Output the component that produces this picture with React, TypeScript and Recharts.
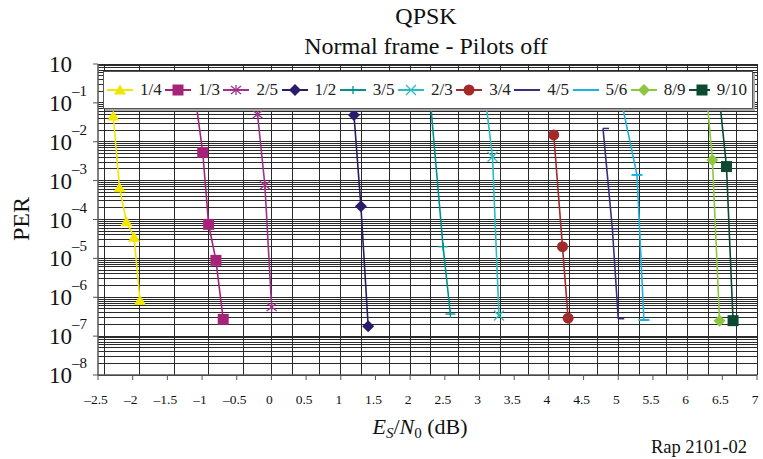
import { LineChart, Line, XAxis, YAxis, CartesianGrid } from 'recharts'

// Es/N0 (dB) and PER, one pair of arrays per code rate
const es14 = [-2.28, -2.19, -2.09, -1.98, -1.895]
const per14 = [4.6e-2, 6.6e-4, 8.7e-5, 3.5e-5, 8.3e-7]
const es13 = [-1.1, -0.99, -0.905, -0.8, -0.695]
const per13 = [1.5e-1, 5.3e-3, 7.5e-5, 8.9e-6, 2.7e-7]
const es25 = [-0.2, -0.094, 0.003]
const per25 = [5.1e-2, 7.6e-4, 5.6e-7]
const es12 = [1.19, 1.29, 1.395]
const per12 = [4.9e-2, 2.2e-4, 1.8e-7]
const es35 = [2.285, 2.475, 2.58]
const per35 = [1.5e-1, 2e-5, 3.7e-7]
const es23 = [3.08, 3.187, 3.28]
const per23 = [1.5e-1, 4.1e-3, 3.4e-7]
const es34 = [4.07, 4.196, 4.277]
const per34 = [1.5e-2, 2e-5, 2.9e-7]
const es45 = [4.78, 4.915, 5.0]
const per45 = [2.2e-2, 5.8e-5, 2.8e-7]
const es56 = [5.03, 5.27, 5.37]
const per56 = [1.5e-1, 1.4e-3, 2.6e-7]
const es89 = [6.275, 6.357, 6.46]
const per89 = [1.5e-1, 3.4e-3, 2.5e-7]
const es910 = [6.455, 6.56, 6.655]
const per910 = [1.5e-1, 2.3e-3, 2.5e-7]

const xTicks = [-2.5, -2, -1.5, -1, -0.5, 0, 0.5, 1, 1.5, 2, 2.5, 3, 3.5, 4, 4.5, 5, 5.5, 6, 6.5, 7]
const yTicks = [1, 1e-1, 1e-2, 1e-3, 1e-4, 1e-5, 1e-6, 1e-7, 1e-8]
const yTickLabels = ['', '–1', '–2', '–3', '–4', '–5', '–6', '–7', '–8']

const FONT = '"Liberation Serif", "Times New Roman", serif'

type Shape = 'triangle' | 'square' | 'asterisk' | 'diamond' | 'plus' | 'cross' | 'circle' | 'tick' | 'dash'

const zip = (xs: number[], ys: number[]) => xs.map((es, i) => ({ es, per: ys[i] }))

const series: { name: string; color: string; shape: Shape; data: { es: number; per: number }[] }[] = [
  { name: '1/4', color: '#f0e600', shape: 'triangle', data: zip(es14, per14) },
  { name: '1/3', color: '#a6237a', shape: 'square', data: zip(es13, per13) },
  { name: '2/5', color: '#a0308c', shape: 'asterisk', data: zip(es25, per25) },
  { name: '1/2', color: '#2b1b6b', shape: 'diamond', data: zip(es12, per12) },
  { name: '3/5', color: '#00918e', shape: 'plus', data: zip(es35, per35) },
  { name: '2/3', color: '#2cbcc0', shape: 'cross', data: zip(es23, per23) },
  { name: '3/4', color: '#a32a2a', shape: 'circle', data: zip(es34, per34) },
  { name: '4/5', color: '#3b2d84', shape: 'tick', data: zip(es45, per45) },
  { name: '5/6', color: '#1fb1e6', shape: 'dash', data: zip(es56, per56) },
  { name: '8/9', color: '#8dc63f', shape: 'diamond', data: zip(es89, per89) },
  { name: '9/10', color: '#0d4a32', shape: 'square', data: zip(es910, per910) },
]

// grid: every 0.1 dB, and 1..9 in each decade
const gridX: number[] = []
for (let i = 0; i <= 95; i++) gridX.push(Math.round((-2.5 + i * 0.1) * 10) / 10)
const gridY: number[] = []
for (let d = -8; d < 0; d++) for (let m = 1; m <= 9; m++) gridY.push(m * Math.pow(10, d))
gridY.push(1)

const Marker = ({ cx, cy, color, shape }: { cx: number; cy: number; color: string; shape: Shape }) => {
  if (cx == null || cy == null) return null
  switch (shape) {
    case 'triangle':
      return <polygon points={`${cx},${cy - 5.5} ${cx - 6},${cy + 4.5} ${cx + 6},${cy + 4.5}`} fill={color} />
    case 'square':
      return <rect x={cx - 5.5} y={cy - 5.5} width={11} height={11} fill={color} />
    case 'diamond':
      return <polygon points={`${cx},${cy - 6} ${cx + 6},${cy} ${cx},${cy + 6} ${cx - 6},${cy}`} fill={color} />
    case 'circle':
      return <circle cx={cx} cy={cy} r={5.5} fill={color} />
    case 'asterisk':
      return (
        <g stroke={color} strokeWidth={1.3}>
          <line x1={cx} y1={cy - 5} x2={cx} y2={cy + 5} />
          <line x1={cx - 5} y1={cy - 4} x2={cx + 5} y2={cy + 4} />
          <line x1={cx - 5} y1={cy + 4} x2={cx + 5} y2={cy - 4} />
        </g>
      )
    case 'plus':
      return (
        <g stroke={color} strokeWidth={1.3}>
          <line x1={cx - 5} y1={cy} x2={cx + 5} y2={cy} />
          <line x1={cx} y1={cy - 4} x2={cx} y2={cy + 4} />
        </g>
      )
    case 'cross':
      return (
        <g stroke={color} strokeWidth={1.3}>
          <line x1={cx - 5} y1={cy - 5} x2={cx + 5} y2={cy + 5} />
          <line x1={cx - 5} y1={cy + 5} x2={cx + 5} y2={cy - 5} />
        </g>
      )
    case 'tick':
      return <line x1={cx} y1={cy} x2={cx + 6} y2={cy} stroke={color} strokeWidth={1.5} />
    case 'dash':
      return <line x1={cx - 5.5} y1={cy} x2={cx + 5.5} y2={cy} stroke={color} strokeWidth={2} />
  }
  return null
}

const XTick = ({ x, y, payload }: any) => {
  const v = payload.value as number
  const label = v < 0 ? '–' + String(-v) : String(v)
  return (
    <text x={x - 2} y={y} dy={22} textAnchor="middle" fontSize={13.5} fontFamily={FONT} fill="#111">
      {label}
    </text>
  )
}

const YTick = ({ x, y, index }: any) => {
  const sup = yTickLabels[index] ?? ''
  return (
    <g fontFamily={FONT} fill="#111">
      <text x={x - 19} y={y} dy={8} textAnchor="end" fontSize={23}>10</text>
      {sup && (
        <text x={x - 19} y={y} dy={-7} textAnchor="start" fontSize={15}>{sup}</text>
      )}
    </g>
  )
}

const LegendBox = () => (
  <div
    style={{
      position: 'absolute',
      left: 103,
      top: 71,
      width: 650,
      height: 38,
      background: '#fff',
      border: '1.5px solid #555',
      boxShadow: '2px 2px 0 #aaa',
      display: 'flex',
      alignItems: 'center',
      paddingLeft: 3,
      boxSizing: 'border-box',
      fontFamily: FONT,
      fontSize: 17,
      color: '#222',
    }}
  >
    {series.map((s) => (
      <div key={s.name} style={{ width: 58.2, display: 'flex', alignItems: 'center', whiteSpace: 'nowrap', flexShrink: 0 }}>
        <svg width={26} height={16} style={{ marginRight: 7 }}>
          <line x1={0} y1={8} x2={26} y2={8} stroke={s.color} strokeWidth={2} />
          {s.shape !== 'tick' && s.shape !== 'dash' && <Marker cx={13} cy={8} color={s.color} shape={s.shape} />}
        </svg>
        <span>{s.name}</span>
      </div>
    ))}
  </div>
)

export default function App() {
  return (
    <div style={{ position: 'absolute', left: 0, top: 0, width: 763, height: 459, background: '#fff' }}>
      <LineChart width={763} height={459} margin={{ top: 64, right: 6, bottom: 54, left: 0 }}>
        <CartesianGrid
          verticalValues={gridX}
          horizontalValues={gridY}
          stroke="#2a2a2a"
          strokeWidth={1}
          shapeRendering="crispEdges"
        />
        <XAxis
          type="number"
          dataKey="es"
          domain={[-2.5, 7]}
          ticks={xTicks}
          tick={<XTick />}
          tickSize={5}
          height={30}
          axisLine={{ stroke: '#555', strokeWidth: 1.5 }}
          tickLine={{ stroke: '#555' }}
          allowDataOverflow
        />
        <YAxis
          type="number"
          dataKey="per"
          scale="log"
          domain={[1e-8, 1]}
          ticks={yTicks}
          tick={<YTick />}
          tickSize={5}
          width={98}
          axisLine={{ stroke: '#555', strokeWidth: 1.5 }}
          tickLine={{ stroke: '#555' }}
          allowDataOverflow
          interval={0}
        />
        {series.map((s) => (
          <Line
            key={s.name}
            data={s.data}
            dataKey="per"
            name={s.name}
            type="linear"
            stroke={s.color}
            strokeWidth={1.6}
            isAnimationActive={false}
            dot={(p: any) => <Marker key={`${s.name}-${p.index}`} cx={p.cx} cy={p.cy} color={s.color} shape={s.shape} />}
            activeDot={false}
          />
        ))}
      </LineChart>
      <LegendBox />
      <svg
        width={763}
        height={459}
        style={{ position: 'absolute', left: 0, top: 0, pointerEvents: 'none' }}
        fontFamily={FONT}
        fill="#111"
      >
        <text x={426} y={24} textAnchor="middle" fontSize={24}>QPSK</text>
        <text x={426} y={54} textAnchor="middle" fontSize={24}>Normal frame - Pilots off</text>
        <text x={0} y={0} fontSize={24} textAnchor="middle" transform="translate(29,219) rotate(-90)">PER</text>
        <text x={420} y={434} textAnchor="middle" fontSize={22}>
          <tspan fontStyle="italic">E</tspan>
          <tspan fontStyle="italic" fontSize={15} dy={4}>S</tspan>
          <tspan dy={-4}>/</tspan>
          <tspan fontStyle="italic">N</tspan>
          <tspan fontSize={15} dy={4}>0</tspan>
          <tspan dy={-4}> (dB)</tspan>
        </text>
        <text x={747} y={453} textAnchor="end" fontSize={18.5}>Rap 2101-02</text>
      </svg>
    </div>
  )
}
